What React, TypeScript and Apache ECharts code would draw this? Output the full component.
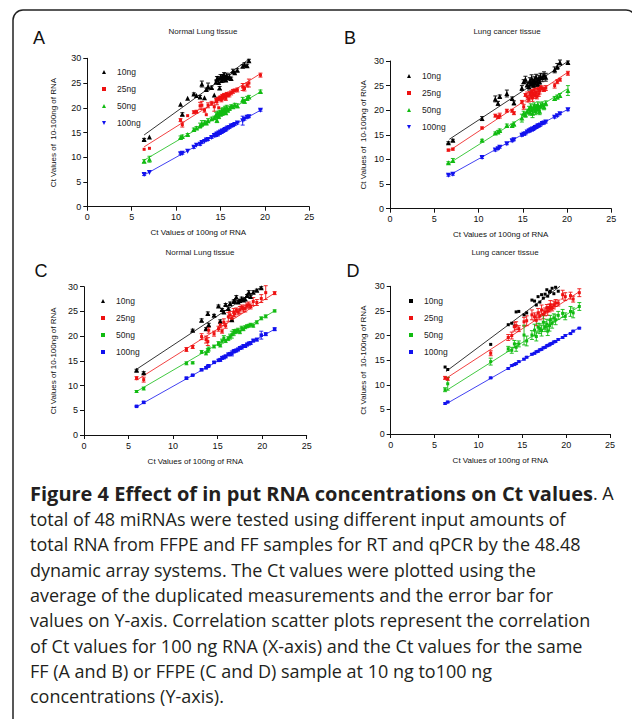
import React, { useEffect, useRef } from "react";
import * as echarts from "echarts";

// ---------- Panel A : Normal Lung tissue (FF) ----------
const A_x = [6.4, 7.0, 10.5, 10.7, 11.3, 12.0, 12.3, 12.7, 12.9, 13.2, 13.4, 13.6, 14.0, 14.3, 14.5, 14.6, 14.7, 14.8, 14.9, 15.0, 15.1, 15.2, 15.3, 15.4, 15.5, 15.6, 15.7, 15.8, 16.0, 16.2, 16.4, 16.6, 16.9, 17.5, 17.7, 18.0, 18.2, 19.5];
const A_10 = [13.6, 14.1, 20.7, 18.7, 21.9, 22.8, 22.5, 22.2, 24.8, 22.0, 23.7, 24.3, 24.1, 22.6, 25.2, 25.8, 26.0, 25.1, 24.0, 26.2, 25.5, 26.4, 25.8, 26.8, 26.1, 25.6, 26.5, 26.0, 26.3, 25.9, 27.4, 27.1, 27.6, 28.4, 28.7, 28.5, 29.5, null];
const A_25 = [11.6, 11.8, 17.5, 16.6, 18.4, 19.1, 19.2, 20.4, 20.5, 19.5, 18.6, 20.5, 20.9, 20.2, 21.5, 21.2, 21.8, 20.0, 21.9, 22.1, 21.6, 22.4, 22.0, 22.6, 22.3, 21.9, 22.8, 22.5, 22.7, 23.0, 23.3, 23.5, 23.6, 24.2, 23.9, 24.6, 25.0, 26.6];
const A_50 = [9.2, 9.6, 14.0, 14.2, 14.6, 15.6, 15.9, 16.4, 16.8, 17.0, 16.9, 17.4, 17.8, 18.0, 18.6, 17.5, 18.9, 18.3, 19.1, 18.7, 19.4, 18.9, 19.6, 19.2, 19.8, 19.0, 20.1, 19.5, 19.9, 20.3, 20.2, 20.6, 20.4, 21.6, 21.3, 21.9, 22.2, 23.3];
const A_100 = [6.5, 6.9, 10.7, 10.8, 11.2, 12.0, 12.4, 12.6, 13.0, 13.2, 13.5, 13.6, 14.0, 14.4, 14.5, 14.7, 14.6, 14.9, 14.8, 15.1, 15.0, 15.3, 15.2, 15.4, 15.6, 15.5, 15.7, 15.9, 16.0, 16.3, 16.4, 16.6, 16.9, 17.4, 17.7, 18.1, 18.2, 19.5];
const A_e10 = [0.2, 0, 0, 0.3, 0, 0.2, 0, 0.3, 0.6, 0, 0.3, 0.7, 0.3, 0, 0.4, 0.5, 0.3, 0, 0.3, 0.5, 0.4, 0.3, 0.6, 0.3, 0.4, 0.3, 0.5, 0.3, 0.4, 0.3, 0.4, 0.3, 0.3, 0.3, 0.4, 0.3, 0.3, 0];
const A_e25 = [0, 0, 0.3, 0.5, 0, 0.3, 0.3, 0.7, 0.8, 0.4, 0, 0.5, 0.4, 0.9, 0.4, 0.6, 0.3, 0, 0.4, 0.3, 0.4, 0.3, 0.4, 0.3, 0.3, 0.4, 0.3, 0.3, 0.5, 0.4, 0.4, 0.3, 0.4, 0.7, 0.5, 0.4, 0.8, 0.4];
const A_e50 = [0.3, 0.6, 0.3, 0.3, 0.2, 0.3, 0.3, 0.5, 0.6, 0.4, 0.3, 0.4, 0.3, 0.3, 0.5, 0.5, 0.4, 0.5, 0.4, 0.3, 0.5, 0.4, 0.4, 0.3, 0.5, 0.3, 0.4, 0.3, 0.4, 0.3, 0.3, 0.3, 0.4, 0.5, 0.4, 0.4, 0.3, 0.3];
const A_e100 = [0.2, 0, 0.2, 0.2, 0, 0.2, 0, 0.2, 0.2, 0, 0.2, 0.2, 0.2, 0.3, 0.3, 0.2, 0.3, 0.3, 0.2, 0.3, 0.2, 0.3, 0.2, 0.2, 0.3, 0.2, 0.2, 0.2, 0.2, 0.2, 0.2, 0.2, 0.2, 0.9, 0.2, 0.2, 0.2, 0.2];
// fitted lines [x0, y0, x1, y1] for 10, 25, 50, 100 ng
const A_fits = [[6.4, 14.5, 18.2, 29.8], [6.4, 12.1, 19.5, 26.9], [6.4, 9.4, 19.5, 23.2], [6.4, 6.4, 19.5, 19.5]];

// ---------- Panel B : Lung cancer tissue (FF) ----------
const B_x = [6.6, 7.1, 10.4, 11.9, 12.2, 12.4, 13.2, 13.8, 14.0, 14.9, 15.1, 15.3, 15.5, 15.7, 15.8, 15.9, 16.0, 16.1, 16.2, 16.3, 16.4, 16.5, 16.6, 16.7, 16.8, 16.9, 17.0, 17.2, 17.4, 17.6, 18.6, 18.9, 19.2, 20.1];
const B_10 = [13.4, 13.9, 18.3, 22.3, 21.4, 22.8, 23.4, 22.4, 21.5, 24.5, 25.8, 26.3, 25.2, 24.8, 26.0, 25.4, 26.5, 25.6, 25.1, 26.2, 25.5, 26.8, 25.9, 25.3, 26.4, 25.8, 26.9, 26.6, 27.1, 26.7, 28.2, 28.9, 29.7, 29.7];
const B_25 = [11.9, 12.1, 16.4, 18.9, 18.6, 18.9, 19.9, 19.9, 19.4, 21.7, 20.7, 23.1, 22.7, 22.2, 23.4, 22.9, 23.8, 22.5, 23.2, 24.1, 23.0, 23.6, 22.8, 24.3, 23.3, 23.9, 24.6, 24.4, 24.2, 24.5, 25.0, 25.8, 26.2, 27.5];
const B_50 = [9.35, 9.8, 13.9, 15.4, 15.6, 15.9, 16.9, 16.9, 17.2, 18.4, 19.4, 19.1, 19.8, 20.3, 19.6, 20.8, 20.1, 19.4, 20.5, 21.0, 19.9, 20.6, 20.2, 21.1, 20.4, 19.8, 20.9, 21.2, 20.7, 21.4, 22.4, 22.7, 23.0, 24.0];
const B_100 = [6.8, 7.0, 10.4, 11.9, 12.2, 12.5, 13.2, 13.8, 14.0, 14.9, 15.1, 15.2, 15.6, 15.8, 15.8, 16.0, 16.0, 16.2, 16.1, 16.3, 16.5, 16.5, 16.6, 16.8, 16.8, 16.9, 17.0, 17.3, 17.4, 17.6, 18.6, 18.9, 19.3, 20.1];
const B_e10 = [0.2, 0.2, 0.4, 0.6, 0.4, 0.3, 0.7, 0.3, 0.4, 0.5, 0.4, 0.6, 0.5, 0.7, 0.6, 0.5, 0.7, 0.6, 0.5, 0.6, 0.7, 0.5, 0.6, 0.4, 0.7, 0.5, 0.6, 0.8, 0.7, 0.8, 0.6, 0.6, 0.5, 0.3];
const B_e25 = [0.2, 0.2, 0.2, 0.3, 0.3, 0.5, 0.3, 0.3, 0.3, 0.3, 0.5, 0.3, 1.0, 0.5, 0.4, 0.6, 0.4, 0.7, 0.5, 0.4, 0.6, 0.8, 0.5, 0.4, 0.5, 0.6, 0.4, 0.5, 0.4, 0.5, 0.5, 0.4, 0.3, 0.4];
const B_e50 = [0.2, 0.4, 0.2, 0.2, 0.3, 0.3, 0.3, 0.3, 0.4, 0.8, 0.4, 0.5, 0.4, 0.5, 0.6, 0.5, 0.4, 0.9, 0.6, 0.5, 0.8, 0.5, 0.9, 0.6, 0.5, 0.7, 0.6, 0.5, 0.6, 0.5, 0.4, 0.4, 0.4, 1.0];
const B_e100 = [0.2, 0.2, 0.2, 0.2, 0.2, 0.2, 0.2, 0.2, 0.2, 0.2, 0.2, 0.2, 0.2, 0.2, 0.2, 0.2, 0.2, 0.2, 0.2, 0.2, 0.2, 0.2, 0.2, 0.2, 0.2, 0.2, 0.2, 0.2, 0.2, 0.2, 0.2, 0.2, 0.2, 0.2];
const B_fits = [[6.7, 14.1, 20.15, 30.0], [6.8, 11.9, 20.0, 27.6], [6.8, 9.35, 20.0, 24.3], [6.7, 6.8, 20.1, 20.2]];

// ---------- Panel C : Normal Lung tissue (FFPE) ----------
const C_x = [5.9, 6.7, 11.5, 12.2, 13.2, 13.7, 13.9, 14.0, 14.6, 15.1, 15.3, 15.5, 15.7, 15.9, 16.2, 16.4, 16.6, 16.8, 16.9, 17.1, 17.3, 17.5, 17.7, 17.9, 18.1, 18.3, 18.5, 18.7, 19.0, 19.4, 19.9, 20.4, 21.4];
const C_10 = [13.1, 12.6, null, 21.2, 23.2, 21.5, 24.6, 22.3, 24.2, 26.1, 23.0, 25.4, 24.9, 26.4, 25.6, 26.6, 23.3, 27.0, 27.2, 27.9, 26.9, 27.2, 27.6, 27.3, 27.5, 28.2, 28.9, 28.0, 28.9, 29.3, 29.8, null, null];
const C_25 = [11.5, 11.2, 17.3, 17.8, 19.9, 19.3, 18.9, 21.2, 20.5, 21.5, 22.3, 21.0, 22.8, 22.1, 23.9, 24.3, 23.6, 24.8, 24.5, 25.2, 24.9, 25.3, 25.8, 25.5, 25.6, 26.2, 26.3, 26.0, 27.0, 26.8, 27.6, 28.8, 28.7];
const C_50 = [8.8, 9.4, 14.5, 14.6, 16.8, 16.5, 17.1, 17.4, 17.9, 18.5, 18.1, 19.0, 19.6, 19.0, 19.5, 19.9, 20.3, 20.7, 20.9, 21.0, 21.2, 20.8, 21.6, 21.4, 21.8, 22.0, 22.1, 22.3, 22.1, 22.8, 23.6, 24.0, 25.1];
const C_100 = [5.8, 6.6, 11.5, 12.1, 13.2, 13.6, 13.9, 14.0, 14.7, 15.1, 15.2, 15.6, 15.7, 15.9, 16.3, 16.4, 16.5, 16.9, 17.0, 17.1, 17.3, 17.6, 17.7, 18.0, 18.0, 18.3, 18.5, 18.6, 19.1, 19.3, 20.2, 20.4, 21.4];
const C_e10 = [0.2, 0.2, 0, 0.2, 0.3, 0.2, 0.3, 0.3, 0.2, 0.2, 0.3, 0.2, 0.3, 0.2, 0.3, 0.3, 0.2, 0.3, 0.2, 0.3, 0.3, 0.2, 0.3, 0.2, 0.3, 0.2, 0.3, 0.2, 0.3, 0.2, 0.2, 0, 0];
const C_e25 = [0.3, 0.5, 0.4, 0.3, 0.6, 0.7, 0.8, 0.6, 0.5, 0.5, 0.6, 0.4, 0.7, 0.5, 0.9, 0.7, 0.6, 0.8, 0.6, 0.5, 0.6, 0.7, 0.5, 0.6, 0.7, 0.5, 0.6, 0.5, 0.8, 0.6, 0.8, 1.4, 0.3];
const C_e50 = [0.2, 0.3, 0.3, 0.2, 0.3, 0.3, 0.4, 0.4, 0.3, 0.4, 0.3, 0.4, 0.5, 0.3, 0.4, 0.5, 0.7, 0.6, 0.4, 0.4, 0.4, 0.3, 0.4, 0.3, 0.3, 0.3, 0.3, 0.3, 0.3, 0.3, 0.3, 0.3, 0.2];
const C_e100 = [0.1, 0.2, 0.2, 0.1, 0.2, 0.2, 0.2, 0.2, 0.2, 0.2, 0.3, 0.3, 0.3, 0.3, 0.3, 0.3, 0.5, 0.3, 0.3, 0.3, 0.3, 0.3, 0.3, 0.3, 0.3, 0.3, 0.3, 0.3, 0.3, 0.3, 0.8, 0.3, 0.3];
const C_fits = [[5.9, 13.3, 19.95, 30.0], [5.9, 11.1, 21.4, 28.7], [5.9, 8.8, 21.4, 25.1], [5.9, 5.7, 21.4, 21.4]];

// ---------- Panel D : Lung cancer tissue (FFPE) ----------
const D_x = [6.2, 6.5, 11.4, 13.4, 13.8, 14.1, 14.3, 14.6, 15.2, 15.5, 16.1, 16.4, 16.6, 16.8, 17.0, 17.2, 17.4, 17.6, 17.8, 17.9, 18.1, 18.2, 18.4, 18.6, 18.8, 19.1, 19.6, 19.9, 20.5, 20.8, 21.5];
const D_10 = [13.6, 13.1, 18.2, 22.2, 22.5, 21.9, 24.8, 24.9, 24.2, 24.6, 27.2, 27.0, 26.2, 27.9, 26.8, 28.3, 27.6, 28.4, 29.3, 28.0, 28.8, 29.0, 29.6, 28.5, 29.8, 29.0, null, null, null, null, null];
const D_25 = [11.4, 11.2, 16.4, 19.6, 20.0, 21.8, 22.0, 21.4, 22.8, 23.0, 24.2, 23.8, 23.1, 24.6, 24.0, 25.2, 24.3, 24.8, 25.6, 25.0, 25.6, 26.2, 25.7, 26.2, 26.6, 26.6, 28.3, 27.9, 28.1, 27.4, 28.7];
const D_50 = [9.0, 10.2, 14.7, 17.3, 17.0, 18.3, 17.6, 18.3, 20.1, 18.9, 20.1, 21.1, 19.8, 21.7, 21.4, 21.0, 22.7, 21.8, 22.3, 20.9, 22.0, 23.2, 22.5, 23.6, 23.2, 24.1, 24.5, 23.9, 24.9, 24.6, 25.9];
const D_100 = [6.2, 6.5, 11.4, 13.3, 13.9, 14.1, 14.3, 14.7, 15.2, 15.6, 16.2, 16.4, 16.7, 16.8, 17.1, 17.2, 17.5, 17.6, 17.9, 18.0, 18.1, 18.3, 18.4, 18.7, 18.8, 19.2, 19.6, 20.0, 20.4, 20.9, 21.5];
const D_e10 = [0, 0, 0, 0, 0, 0, 0, 0, 0, 0, 0, 0, 0, 0, 0, 0, 0, 0, 0, 0, 0, 0, 0, 0, 0, 0, 0, 0, 0, 0, 0];
const D_e25 = [0.3, 0.3, 0.5, 0.6, 0.7, 0.9, 0.8, 0.6, 0.9, 1.0, 1.0, 0.8, 1.1, 0.9, 0.8, 1.0, 0.9, 0.8, 0.7, 0.9, 0.8, 0.9, 0.7, 0.8, 0.7, 0.6, 0.9, 0.8, 0.7, 0.6, 0.8];
const D_e50 = [0.4, 1.3, 0.7, 0.5, 0.6, 0.7, 0.8, 0.6, 2.0, 1.0, 0.9, 1.2, 0.9, 0.8, 1.0, 1.1, 1.4, 1.0, 1.0, 0.9, 1.1, 0.9, 1.0, 0.8, 1.0, 0.8, 0.8, 0.7, 1.0, 1.0, 0.8];
const D_e100 = [0.15, 0.15, 0.15, 0.15, 0.15, 0.15, 0.15, 0.15, 0.15, 0.15, 0.15, 0.15, 0.15, 0.15, 0.15, 0.15, 0.15, 0.15, 0.15, 0.15, 0.15, 0.15, 0.15, 0.15, 0.15, 0.15, 0.15, 0.15, 0.15, 0.15, 0.15];
const D_fits = [[6.3, 12.7, 19.3, 30.0], [6.4, 11.4, 21.5, 28.9], [6.4, 8.9, 21.5, 25.9], [6.4, 6.2, 21.5, 21.6]];

// ---------- texts ----------
const CONC = ["10ng", "25ng", "50ng", "100ng"];
const X_TICKS_MAX = 25;
const Y_TICKS_MAX = 30;
const TICK_STEP = 5;
const X_NAME = "Ct Values of 100ng of RNA";
const Y_NAME_2SP = "Ct Values of  10-100ng of RNA";
const Y_NAME_1SP = "Ct Values of 10-100ng of RNA";
const T_NORMAL = "Normal Lung tissue";
const T_CANCER = "Lung cancer tissue";
const CAP_BOLD = "Figure 4 Effect of in put RNA concentrations on Ct values";
const CAP_TAIL = ". A";
const CAP_LINES = [
  "total of 48 miRNAs were tested using different input amounts of",
  "total RNA from FFPE and FF samples for RT and qPCR by the 48.48",
  "dynamic array systems. The Ct values were plotted using the",
  "average of the duplicated measurements and the error bar for",
  "values on Y-axis. Correlation scatter plots represent the correlation",
  "of Ct values for 100 ng RNA (X-axis) and the Ct values for the same",
  "FF (A and B) or FFPE (C and D) sample at 10 ng to100 ng",
  "concentrations (Y-axis).",
];

// ---------- styles ----------
const COLORS = ["#000000", "#ee1111", "#11bb11", "#1111ee"];
const SANS = "'Liberation Sans', Arial, Helvetica, sans-serif";
const CAPF = "'Open Sans', 'Noto Sans', sans-serif";
const P_TRI = "path://M5,0L10,10L0,10Z";
const P_INV = "path://M0,0L10,0L5,10Z";
const P_SQ = "path://M0,0L10,0L10,10L0,10Z";

const PANELS = [
  {
    letter: "A", title: T_NORMAL, yName: Y_NAME_2SP, x: A_x, ys: [A_10, A_25, A_50, A_100],
    errs: [A_e10, A_e25, A_e50, A_e100], fits: A_fits,
    grid: { left: 87.3, top: 58.3, width: 222, height: 148.4 },
    letterAt: [39, 38], titleAt: [203, 31], legendAt: [97, 62], yNameGap: 30,
    symbols: [P_TRI, P_SQ, P_TRI, P_INV], sizes: [5, 3, 5, 5],
  },
  {
    letter: "B", title: T_CANCER, yName: Y_NAME_2SP, x: B_x, ys: [B_10, B_25, B_50, B_100],
    errs: [B_e10, B_e25, B_e50, B_e100], fits: B_fits,
    grid: { left: 390, top: 61, width: 221.3, height: 147.7 },
    letterAt: [350, 38], titleAt: [507, 31], legendAt: [402, 66], yNameGap: 23,
    symbols: [P_TRI, P_SQ, P_TRI, P_INV], sizes: [5, 3, 5, 5],
  },
  {
    letter: "C", title: T_NORMAL, yName: Y_NAME_1SP, x: C_x, ys: [C_10, C_25, C_50, C_100],
    errs: [C_e10, C_e25, C_e50, C_e100], fits: C_fits,
    grid: { left: 84, top: 286.7, width: 222.7, height: 148.3 },
    letterAt: [41, 271], titleAt: [200, 252], legendAt: [96, 291], yNameGap: 27,
    symbols: [P_TRI, P_SQ, P_SQ, P_SQ], sizes: [5, 3, 3, 3.5],
  },
  {
    letter: "D", title: T_CANCER, yName: Y_NAME_2SP, x: D_x, ys: [D_10, D_25, D_50, D_100],
    errs: [D_e10, D_e25, D_e50, D_e100], fits: D_fits,
    grid: { left: 390.7, top: 286.3, width: 219.3, height: 147.7 },
    letterAt: [353, 271], titleAt: [505, 252], legendAt: [404, 291], yNameGap: 23,
    symbols: [P_SQ, P_SQ, P_SQ, P_SQ], sizes: [3, 3, 3, 3],
  },
];

function makeErrRender(color: string) {
  return (params: any, api: any) => {
    const xv = api.value(0);
    const lo = api.coord([xv, api.value(1)]);
    const hi = api.coord([xv, api.value(2)]);
    const w = 2;
    const st = { stroke: color, lineWidth: 0.9 };
    return {
      type: "group",
      children: [
        { type: "line", shape: { x1: hi[0], y1: hi[1], x2: lo[0], y2: lo[1] }, style: st },
        { type: "line", shape: { x1: hi[0] - w, y1: hi[1], x2: hi[0] + w, y2: hi[1] }, style: st },
        { type: "line", shape: { x1: lo[0] - w, y1: lo[1], x2: lo[0] + w, y2: lo[1] }, style: st },
      ],
    };
  };
}

function txt(x: number, y: number, text: string, font: any, extra: any = {}) {
  return {
    type: "text",
    x,
    y,
    silent: true,
    style: {
      text,
      fill: font.color || "#111",
      fontSize: font.size,
      fontFamily: font.family,
      fontWeight: font.weight || "normal",
      align: font.align || "left",
      textAlign: font.align || "left",
      verticalAlign: "middle",
      textVerticalAlign: "middle",
      ...extra,
    },
  };
}

function buildOption() {
  const grid: any[] = [];
  const xAxis: any[] = [];
  const yAxis: any[] = [];
  const series: any[] = [];
  const legend: any[] = [];
  const graphic: any[] = [];

  graphic.push({
    type: "rect",
    silent: true,
    shape: { x: 13, y: 10, width: 623, height: 760, r: 10 },
    style: { fill: "none", stroke: "#222", lineWidth: 1.5 },
  });

  PANELS.forEach((p, i) => {
    grid.push({ ...p.grid });
    const axisCommon = {
      type: "value",
      gridIndex: i,
      min: 0,
      interval: TICK_STEP,
      nameLocation: "middle",
      nameTextStyle: { fontSize: 8, fontFamily: SANS, color: "#111" },
      axisLine: { show: true, onZero: false, lineStyle: { color: "#111", width: 1 } },
      axisTick: { show: true, inside: false, length: 4, lineStyle: { color: "#111", width: 1 } },
      splitLine: { show: false },
    };
    xAxis.push({
      ...axisCommon,
      max: X_TICKS_MAX,
      name: X_NAME,
      nameGap: 22,
      axisLabel: { fontSize: 9, fontFamily: SANS, color: "#111", margin: 6 },
    });
    yAxis.push({
      ...axisCommon,
      max: Y_TICKS_MAX,
      name: p.yName,
      nameGap: p.yNameGap,
      axisLabel: { fontSize: 9, fontFamily: SANS, color: "#111", margin: 6 },
    });

    CONC.forEach((c, k) => {
      const f = p.fits[k];
      series.push({
        type: "scatter",
        name: c,
        xAxisIndex: i,
        yAxisIndex: i,
        symbol: p.symbols[k],
        symbolSize: p.sizes[k],
        itemStyle: { color: COLORS[k], opacity: 1 },
        data: p.x.map((xv, j) => [xv, p.ys[k][j]]).filter((d) => d[1] != null),
        z: 4,
        silent: true,
      });
      series.push({
        type: "line",
        name: `${p.letter} fit ${c}`,
        xAxisIndex: i,
        yAxisIndex: i,
        data: [[f[0], f[1]], [f[2], f[3]]],
        symbol: "none",
        showSymbol: false,
        lineStyle: { color: COLORS[k], width: 0.8 },
        z: 2,
        silent: true,
      });
      series.push({
        type: "custom",
        name: `${p.letter} err ${c}`,
        xAxisIndex: i,
        yAxisIndex: i,
        renderItem: makeErrRender(COLORS[k]),
        encode: { x: 0, y: [1, 2] },
        data: p.x
          .map((xv, j) => {
            const yv = p.ys[k][j];
            const e = p.errs[k][j];
            return yv == null || !e ? null : [xv, yv - e, yv + e];
          })
          .filter((d) => d != null),
        z: 3,
        silent: true,
      });
    });

    legend.push({
      orient: "vertical",
      left: p.legendAt[0],
      top: p.legendAt[1],
      itemWidth: 16,
      itemHeight: 4,
      itemGap: 7,
      selectedMode: false,
      symbolKeepAspect: true,
      textStyle: { fontSize: 8.5, fontFamily: SANS, color: "#222", lineHeight: 10 },
      data: CONC.map((c, k) => ({ name: c, icon: p.symbols[k] })),
    });

    graphic.push(txt(p.letterAt[0], p.letterAt[1], p.letter, { size: 18, family: SANS, align: "center", color: "#111" }));
    graphic.push(txt(p.titleAt[0], p.titleAt[1], p.title, { size: 8, family: SANS, align: "center", color: "#222" }));
  });

  // caption
  graphic.push({
    type: "text",
    x: 30,
    y: 493,
    silent: true,
    style: {
      text: `{b|${CAP_BOLD}}${CAP_TAIL}`,
      fill: "#231f20",
      fontSize: 18,
      fontFamily: CAPF,
      verticalAlign: "middle",
      textVerticalAlign: "middle",
      rich: {
        b: { fontWeight: "bold", fontSize: 20, fontFamily: CAPF, fill: "#231f20" },
      },
    },
  });
  CAP_LINES.forEach((line, n) => {
    graphic.push(txt(30, 519 + n * 25.3, line, { size: 18, family: CAPF, color: "#231f20" }));
  });

  return {
    animation: false,
    backgroundColor: "#ffffff",
    grid,
    xAxis,
    yAxis,
    legend,
    series,
    graphic,
  };
}

export default function App() {
  const ref = useRef<HTMLDivElement>(null);
  useEffect(() => {
    document.body.style.margin = "0";
    const chart = echarts.init(ref.current as HTMLDivElement, null, { renderer: "svg" });
    chart.setOption(buildOption() as any);
    return () => chart.dispose();
  }, []);
  return (
    <div
      ref={ref}
      style={{ position: "absolute", left: 0, top: 0, width: 632, height: 719, background: "#fff" }}
    />
  );
}
